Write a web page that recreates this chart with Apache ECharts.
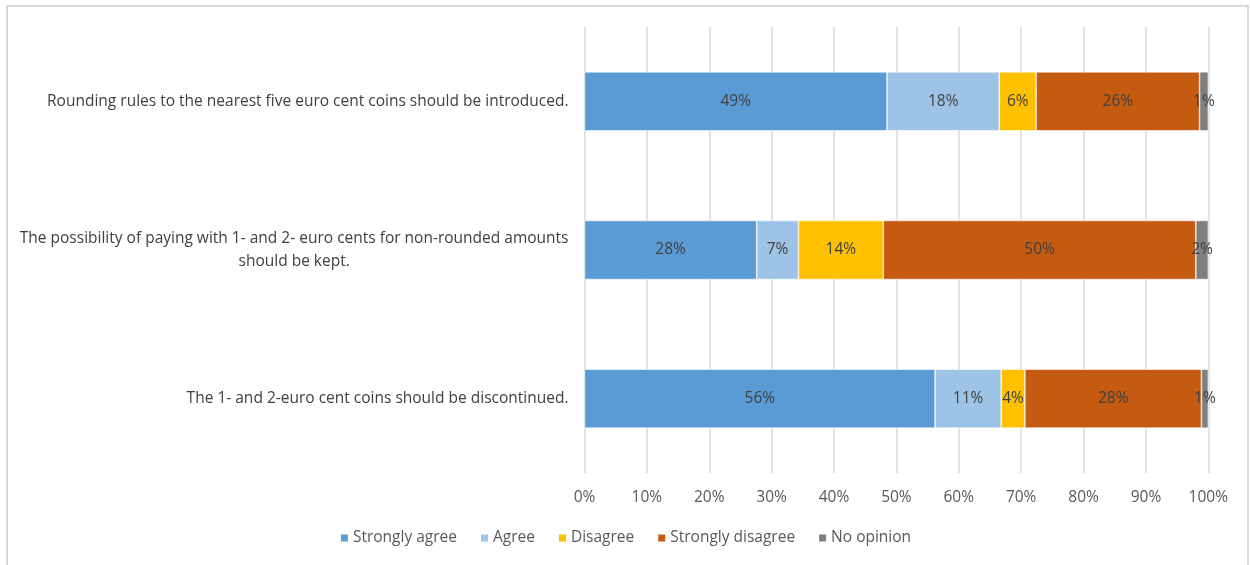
<!DOCTYPE html>
<html>
<head>
<meta charset="utf-8">
<script src="https://cdn.jsdelivr.net/npm/echarts@6/dist/echarts.min.js"></script>
<style>
  html, body { margin: 0; padding: 0; background: #ffffff; }
  #chart { width: 1250px; height: 565px; }
</style>
</head>
<body>
<div id="chart"></div>
<script>
// Survey statements, listed top to bottom
const statements = [
  'Rounding rules to the nearest five euro cent coins should be introduced.',
  'The possibility of paying with 1- and 2- euro cents for non-rounded amounts\nshould be kept.',
  'The 1- and 2-euro cent coins should be discontinued.'
];

// Share of respondents (%) per answer, one value per statement
const stronglyAgree    = [48.5, 27.6, 56.2];
const agree            = [18.0, 6.7, 10.6];
const disagree         = [5.9, 13.6, 3.8];
const stronglyDisagree = [26.2, 50.1, 28.3];
const noOpinion        = [1.4, 2.0, 1.1];

const answerNames  = ['Strongly agree', 'Agree', 'Disagree', 'Strongly disagree', 'No opinion'];
const answerValues = [stronglyAgree, agree, disagree, stronglyDisagree, noOpinion];
const answerColors = ['#5B9BD5', '#9DC3E6', '#FFC000', '#C55A11', '#7F7F7F'];

// Percentage axis ticks
const tickStep = 10;
const tickMax = 100;

const FONT = '"Open Sans", Lato, sans-serif';

const chart = echarts.init(document.getElementById('chart'), null, { renderer: 'canvas' });

// Multi-line statements get their lines centred on each other
function statementLabel(value) {
  if (value.indexOf('\n') >= 0) {
    return value.split('\n').map(l => '{c|' + l + '}').join('\n');
  }
  return value;
}

const option = {
  backgroundColor: '#ffffff',
  animation: false,
  graphic: [{
    type: 'rect',
    silent: true,
    shape: { x: 7, y: 6, width: 1241, height: 620 },
    style: { fill: 'none', stroke: '#d9d9d9', lineWidth: 2 }
  }],
  legend: {
    bottom: 14,
    left: 'center',
    itemWidth: 9,
    itemHeight: 9,
    itemGap: 22,
    icon: 'rect',
    textStyle: { color: '#595959', fontSize: 15.5, fontFamily: FONT, padding: [0, 0, 0, -1] },
    data: answerNames
  },
  grid: {
    left: 584.5,
    right: 41.7,
    top: 27,
    bottom: 92,
    containLabel: false
  },
  xAxis: {
    type: 'value',
    min: 0,
    max: tickMax,
    interval: tickStep,
    axisLine: { show: false },
    axisTick: { show: false },
    splitLine: { show: true, lineStyle: { color: '#d9d9d9', width: 1.5 } },
    axisLabel: {
      color: '#595959',
      fontSize: 15.5,
      fontFamily: FONT,
      margin: 17,
      formatter: v => v + '%'
    }
  },
  yAxis: {
    type: 'category',
    inverse: true,
    data: statements,
    axisLine: { show: false },
    axisTick: { show: false },
    axisLabel: {
      color: '#404040',
      fontSize: 15.5,
      fontFamily: FONT,
      margin: 16,
      lineHeight: 23,
      align: 'right',
      formatter: statementLabel,
      rich: {
        c: { align: 'center', color: '#404040', fontSize: 15.5, fontFamily: FONT, lineHeight: 23 }
      }
    }
  },
  series: answerNames.map((name, i) => ({
    name: name,
    type: 'bar',
    stack: 'total',
    barWidth: 59,
    data: answerValues[i],
    itemStyle: { color: answerColors[i], borderColor: '#ffffff', borderWidth: 0.6 },
    label: {
      show: true,
      position: 'inside',
      color: '#404040',
      fontSize: 15.5,
      fontFamily: FONT,
      formatter: p => Math.round(p.value) + '%'
    }
  }))
};

chart.setOption(option);
</script>
</body>
</html>
